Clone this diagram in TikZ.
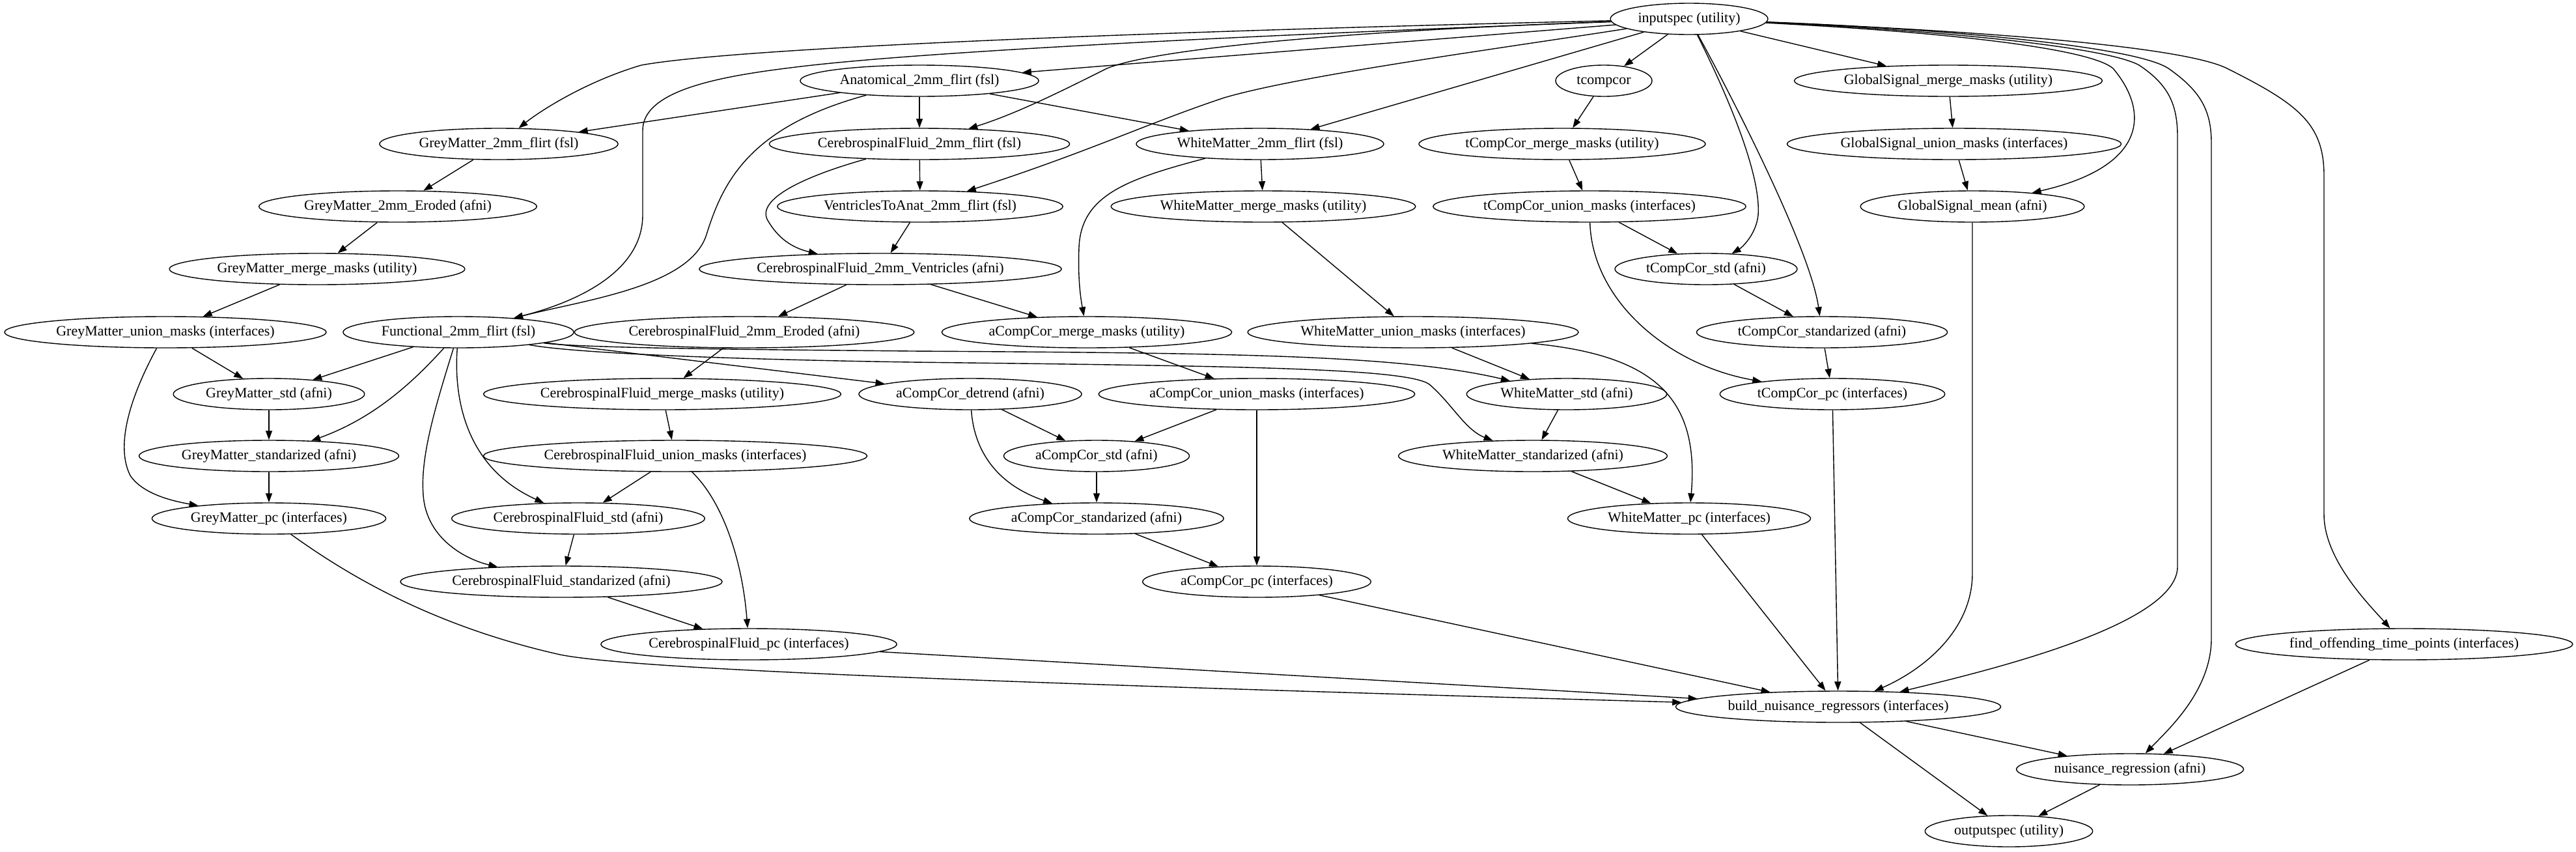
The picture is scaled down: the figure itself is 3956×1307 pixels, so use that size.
\documentclass[tikz,border=0pt]{standalone}
\usepackage{fontspec}
\setmainfont{Liberation Serif}
\usetikzlibrary{shapes.geometric,arrows.meta}
\begin{document}
\begin{tikzpicture}[x=1pt,y=-1pt,
  nd/.style={draw, ellipse, line width=1.4pt, inner xsep=7pt, inner ysep=2pt, minimum height=48pt,
    font=\fontsize{22}{26}\selectfont, text height=16pt, text depth=5pt},
  edge/.style={line width=1.4pt, -{Triangle[length=14pt,width=10pt]}}]
\useasboundingbox (0,0) rectangle (3956,1307);
% nodes
\node[nd] (IS) at (2594,29) {inputspec (utility)};
\node[nd] (anat) at (1412,124) {Anatomical\_2mm\_flirt (fsl)};
\node[nd, minimum width=148pt] (tcc) at (2463,124) {tcompcor};
\node[nd] (gsmerge) at (2992,124) {GlobalSignal\_merge\_masks (utility)};
\node[nd] (gmflirt) at (766,221) {GreyMatter\_2mm\_flirt (fsl)};
\node[nd] (csfflirt) at (1412,221) {CerebrospinalFluid\_2mm\_flirt (fsl)};
\node[nd] (wmflirt) at (1935,221) {WhiteMatter\_2mm\_flirt (fsl)};
\node[nd] (tmerge) at (2399,221) {tCompCor\_merge\_masks (utility)};
\node[nd] (gsunion) at (3001,221) {GlobalSignal\_union\_masks (interfaces)};
\node[nd] (gmerod) at (611,317) {GreyMatter\_2mm\_Eroded (afni)};
\node[nd] (vent) at (1413,317) {VentriclesToAnat\_2mm\_flirt (fsl)};
\node[nd] (wmmerge) at (1940,317) {WhiteMatter\_merge\_masks (utility)};
\node[nd] (tunion) at (2441,317) {tCompCor\_union\_masks (interfaces)};
\node[nd] (gsmean) at (3029,317) {GlobalSignal\_mean (afni)};
\node[nd] (gmmerge) at (487,413) {GreyMatter\_merge\_masks (utility)};
\node[nd] (csfvent) at (1352,413) {CerebrospinalFluid\_2mm\_Ventricles (afni)};
\node[nd] (tstd) at (2620,413) {tCompCor\_std (afni)};
\node[nd] (gmunion) at (254,510) {GreyMatter\_union\_masks (interfaces)};
\node[nd] (func) at (704,510) {Functional\_2mm\_flirt (fsl)};
\node[nd] (csferod) at (1143,510) {CerebrospinalFluid\_2mm\_Eroded (afni)};
\node[nd] (amerge) at (1669,510) {aCompCor\_merge\_masks (utility)};
\node[nd] (wmunion) at (2170,510) {WhiteMatter\_union\_masks (interfaces)};
\node[nd] (tstdz) at (2798,510) {tCompCor\_standarized (afni)};
\node[nd] (gmstd) at (413,605) {GreyMatter\_std (afni)};
\node[nd] (csfmerge) at (1017,605) {CerebrospinalFluid\_merge\_masks (utility)};
\node[nd] (adetrend) at (1490,605) {aCompCor\_detrend (afni)};
\node[nd] (aunion) at (1930,605) {aCompCor\_union\_masks (interfaces)};
\node[nd] (wmstd) at (2406,605) {WhiteMatter\_std (afni)};
\node[nd] (tpc) at (2814,605) {tCompCor\_pc (interfaces)};
\node[nd] (gmstdz) at (413,700) {GreyMatter\_standarized (afni)};
\node[nd] (csfunion) at (1037,700) {CerebrospinalFluid\_union\_masks (interfaces)};
\node[nd] (astd) at (1684,700) {aCompCor\_std (afni)};
\node[nd] (wmstdz) at (2354,700) {WhiteMatter\_standarized (afni)};
\node[nd] (gmpc) at (413,796) {GreyMatter\_pc (interfaces)};
\node[nd] (csfstd) at (888,796) {CerebrospinalFluid\_std (afni)};
\node[nd] (astdz) at (1684,796) {aCompCor\_standarized (afni)};
\node[nd] (wmpc) at (2594,796) {WhiteMatter\_pc (interfaces)};
\node[nd] (csfstdz) at (862,893) {CerebrospinalFluid\_standarized (afni)};
\node[nd] (apc) at (1930,893) {aCompCor\_pc (interfaces)};
\node[nd] (csfpc) at (1150,989) {CerebrospinalFluid\_pc (interfaces)};
\node[nd] (find) at (3692,989) {find\_offending\_time\_points (interfaces)};
\node[nd] (build) at (2823,1085) {build\_nuisance\_regressors (interfaces)};
\node[nd] (nreg) at (3271,1181) {nuisance\_regression (afni)};
\node[nd] (out) at (3085,1276) {outputspec (utility)};
% edges from inputspec
\draw[edge] (IS) .. controls (1900,45) and (1150,70) .. (985,100) .. controls (900,125) and (830,170) .. (gmflirt);
\draw[edge] (IS) .. controls (1900,55) and (1400,80) .. (1214,104) .. controls (1100,118) and (987,140) .. (987,200) -- (987,330) .. controls (987,420) and (880,465) .. (func);
\draw[edge] (IS) -- (anat);
\draw[edge] (IS) .. controls (2000,50) and (1760,80) .. (1700,105) .. controls (1630,140) and (1560,175) .. (csfflirt);
\draw[edge] (IS) .. controls (2300,75) and (2000,115) .. (1880,150) .. controls (1760,190) and (1680,230) .. (vent);
\draw[edge] (IS) -- (wmflirt);
\draw[edge] (IS) -- (tcc);
\draw[edge] (IS) .. controls (2640,120) and (2705,260) .. (2700,330) .. controls (2697,360) and (2675,380) .. (tstd);
\draw[edge] (IS) .. controls (2650,130) and (2780,380) .. (tstdz);
\draw[edge] (IS) -- (gsmerge);
\draw[edge] (IS) .. controls (3000,50) and (3210,75) .. (3245,105) .. controls (3300,170) and (3300,255) .. (gsmean);
\draw[edge] (IS) .. controls (2950,45) and (3230,70) .. (3285,100) .. controls (3330,130) and (3344,160) .. (3344,210) -- (3344,870) .. controls (3344,960) and (3050,1030) .. (build);
\draw[edge] (IS) .. controls (3000,45) and (3280,72) .. (3330,105) .. controls (3380,140) and (3396,170) .. (3396,220) -- (3396,980) .. controls (3396,1060) and (3330,1120) .. (nreg);
\draw[edge] (IS) .. controls (3100,50) and (3360,75) .. (3420,105) .. controls (3530,160) and (3569,190) .. (3569,270) -- (3569,790) .. controls (3569,860) and (3640,930) .. (find);
% anatomical
\draw[edge] (anat) -- (gmflirt);
\draw[edge] (anat) -- (csfflirt);
\draw[edge] (anat) -- (wmflirt);
\draw[edge] (anat) .. controls (1150,195) and (1110,280) .. (1085,360) .. controls (1060,440) and (900,460) .. (func);
% csf chain
\draw[edge] (csfflirt) -- (vent);
\draw[edge] (csfflirt) .. controls (1220,275) and (1160,310) .. (1180,340) .. controls (1195,365) and (1215,380) .. (csfvent);
\draw[edge] (vent) -- (csfvent);
\draw[edge] (csfvent) -- (csferod);
\draw[edge] (csfvent) -- (amerge);
\draw[edge] (csferod) -- (csfmerge);
\draw[edge] (csfmerge) -- (csfunion);
\draw[edge] (csfunion) -- (csfstd);
\draw[edge] (csfunion) .. controls (1110,770) and (1140,860) .. (csfpc);
\draw[edge] (csfstd) -- (csfstdz);
\draw[edge] (csfstdz) -- (csfpc);
% white matter
\draw[edge] (wmflirt) -- (wmmerge);
\draw[edge] (wmflirt) .. controls (1730,275) and (1660,300) .. (1657,380) .. controls (1655,430) and (1660,460) .. (amerge);
\draw[edge] (wmmerge) -- (wmunion);
\draw[edge] (wmunion) -- (wmstd);
\draw[edge] (wmunion) .. controls (2540,545) and (2610,610) .. (wmpc);
\draw[edge] (wmstd) -- (wmstdz);
\draw[edge] (wmstdz) -- (wmpc);
% tcompcor
\draw[edge] (tcc) -- (tmerge);
\draw[edge] (tmerge) -- (tunion);
\draw[edge] (tunion) -- (tstd);
\draw[edge] (tunion) .. controls (2445,460) and (2560,560) .. (tpc);
\draw[edge] (tstd) -- (tstdz);
\draw[edge] (tstdz) -- (tpc);
% global signal
\draw[edge] (gsmerge) -- (gsunion);
\draw[edge] (gsunion) -- (gsmean);
% grey matter
\draw[edge] (gmflirt) -- (gmerod);
\draw[edge] (gmerod) -- (gmmerge);
\draw[edge] (gmmerge) -- (gmunion);
\draw[edge] (gmunion) -- (gmstd);
\draw[edge] (gmunion) .. controls (205,600) and (175,680) .. (200,730) .. controls (220,760) and (270,770) .. (gmpc);
\draw[edge] (gmstd) -- (gmstdz);
\draw[edge] (gmstdz) -- (gmpc);
% functional
\draw[edge] (func) -- (gmstd);
\draw[edge] (func) .. controls (640,580) and (580,640) .. (gmstdz);
\draw[edge] (func) .. controls (696,620) and (720,720) .. (csfstd);
\draw[edge] (func) .. controls (670,620) and (645,700) .. (650,760) .. controls (655,830) and (720,860) .. (csfstdz);
\draw[edge] (func) -- (adetrend);
\draw[edge] (func) .. controls (900,535) and (1200,537) .. (1400,539) .. controls (1900,542) and (2150,545) .. (wmstd);
\draw[edge] (func) .. controls (900,545) and (1200,553) .. (1400,556) .. controls (1900,562) and (2160,565) .. (2195,590) .. controls (2230,620) and (2250,660) .. (wmstdz);
% acompcor
\draw[edge] (amerge) -- (aunion);
\draw[edge] (adetrend) -- (astd);
\draw[edge] (adetrend) .. controls (1495,680) and (1520,740) .. (astdz);
\draw[edge] (aunion) -- (astd);
\draw[edge] (aunion) -- (apc);
\draw[edge] (astd) -- (astdz);
\draw[edge] (astdz) -- (apc);
% into build
\draw[edge] (gmpc) .. controls (530,880) and (660,960) .. (860,1005) .. controls (960,1025) and (1400,1045) .. (build);
\draw[edge] (csfpc) -- (build);
\draw[edge] (apc) -- (build);
\draw[edge] (wmpc) -- (build);
\draw[edge] (tpc) -- (build);
\draw[edge] (gsmean) -- (3029,880) .. controls (3029,970) and (2950,1030) .. (build);
% final
\draw[edge] (build) -- (nreg);
\draw[edge] (build) -- (out);
\draw[edge] (find) -- (nreg);
\draw[edge] (nreg) -- (out);
\end{tikzpicture}
\end{document}
